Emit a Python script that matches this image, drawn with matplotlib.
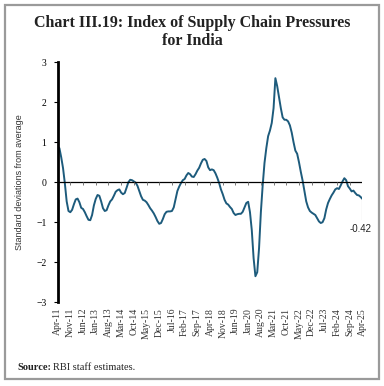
import matplotlib
matplotlib.use("Agg")
import matplotlib.pyplot as plt
import pandas as pd
from matplotlib.patches import Rectangle

# monthly index, Apr-2011 .. Apr-2025 (standard deviations from average)
start_month = "2011-04-01"
values = [
    0.89, 0.85, 0.62, 0.35, -0.03, -0.48, -0.72, -0.75, -0.69, -0.55,
    -0.43, -0.41, -0.50, -0.64, -0.67, -0.75, -0.85, -0.94, -0.95, -0.82,
    -0.58, -0.42, -0.32, -0.34, -0.48, -0.65, -0.72, -0.70, -0.58, -0.48,
    -0.43, -0.34, -0.24, -0.20, -0.18, -0.26, -0.30, -0.27, -0.14, 0.00,
    0.06, 0.05, 0.02, -0.01, -0.09, -0.22, -0.35, -0.44, -0.46, -0.50,
    -0.57, -0.65, -0.71, -0.78, -0.87, -0.97, -1.04, -1.02, -0.92, -0.80,
    -0.74, -0.73, -0.73, -0.72, -0.63, -0.43, -0.22, -0.11, -0.02, 0.05,
    0.08, 0.17, 0.23, 0.20, 0.14, 0.13, 0.20, 0.29, 0.36, 0.47,
    0.56, 0.58, 0.53, 0.37, 0.30, 0.32, 0.30, 0.22, 0.11, -0.02,
    -0.18, -0.30, -0.44, -0.53, -0.56, -0.62, -0.67, -0.77, -0.82, -0.80,
    -0.79, -0.79, -0.74, -0.63, -0.52, -0.49, -0.75, -1.20, -1.90, -2.35,
    -2.25, -1.65, -0.75, -0.08, 0.48, 0.85, 1.15, 1.29, 1.48, 1.85,
    2.60, 2.40, 2.12, 1.85, 1.62, 1.56, 1.56, 1.52, 1.42, 1.24,
    1.00, 0.79, 0.71, 0.50, 0.26, 0.04, -0.22, -0.48, -0.63, -0.72,
    -0.76, -0.79, -0.82, -0.90, -0.98, -1.02, -1.00, -0.90, -0.68, -0.52,
    -0.42, -0.33, -0.26, -0.18, -0.15, -0.17, -0.08, 0.02, 0.10, 0.05,
    -0.10, -0.16, -0.23, -0.21, -0.27, -0.32, -0.33, -0.37, -0.42,
]
months = pd.date_range(start_month, periods=len(values), freq="MS")
x = list(range(len(values)))
tick_pos = x[::7]
tick_labels = [months[i].strftime("%b-%y") for i in tick_pos]

serif = ["Liberation Serif", "DejaVu Serif"]
sans = ["Liberation Sans", "DejaVu Sans"]

fig = plt.figure(figsize=(3.84, 3.86), dpi=100)
fig.patches.append(Rectangle((0.013, 0.018), 0.974, 0.969, transform=fig.transFigure,
                             fill=False, edgecolor="#9a9a9a", linewidth=1.6))

fig.text(0.5, 0.940, "Chart III.19: Index of Supply Chain Pressures",
         ha="center", va="center", fontsize=11.5, fontweight="bold",
         family=serif, color="#222222")
fig.text(0.5, 0.895, "for India", ha="center", va="center", fontsize=11.5,
         fontweight="bold", family=serif, color="#222222")

ax = fig.add_axes([0.150, 0.217, 0.794, 0.622])
ax.plot(x, values, color="#1d5b7c", linewidth=1.4, solid_capstyle="round")
ax.axhline(0, color="black", linewidth=0.9)
ax.vlines(tick_pos, -0.07, 0, color="#777777", linewidth=0.7)

ax.set_xlim(0, len(values) - 1)
ax.set_ylim(-3, 3)
ax.set_yticks(range(-3, 4))
ax.set_xticks(tick_pos)
ax.set_xticklabels(tick_labels, rotation=90, fontsize=7, family=serif,
                   color="#333333")
ax.tick_params(axis="x", length=0, pad=4)
ax.tick_params(axis="y", length=3, width=0.8, labelsize=7, pad=5)
for lab in ax.get_yticklabels():
    lab.set_family(serif)
for side in ["top", "right", "bottom"]:
    ax.spines[side].set_visible(False)
ax.spines["left"].set_linewidth(2.0)
ax.set_ylabel("Standard deviations from average", fontsize=6.5, family=sans,
              color="#333333", labelpad=9)

# last value callout
last = values[-1]
ax.plot([x[-1], x[-1]], [last, last - 0.5], color="#aaaaaa", linewidth=0.8)
ax.text(x[-1] - 1, last - 0.74, f"{last:.2f}", ha="center", va="center",
        fontsize=7, family=sans, color="#222222")

fig.text(0.045, 0.049, "Source:", fontsize=7.5, fontweight="bold", family=serif,
         va="center", color="#222222")
fig.text(0.138, 0.049, "RBI staff estimates.", fontsize=7.5, family=serif,
         va="center", color="#222222")

fig.savefig("out.png", dpi=100)
